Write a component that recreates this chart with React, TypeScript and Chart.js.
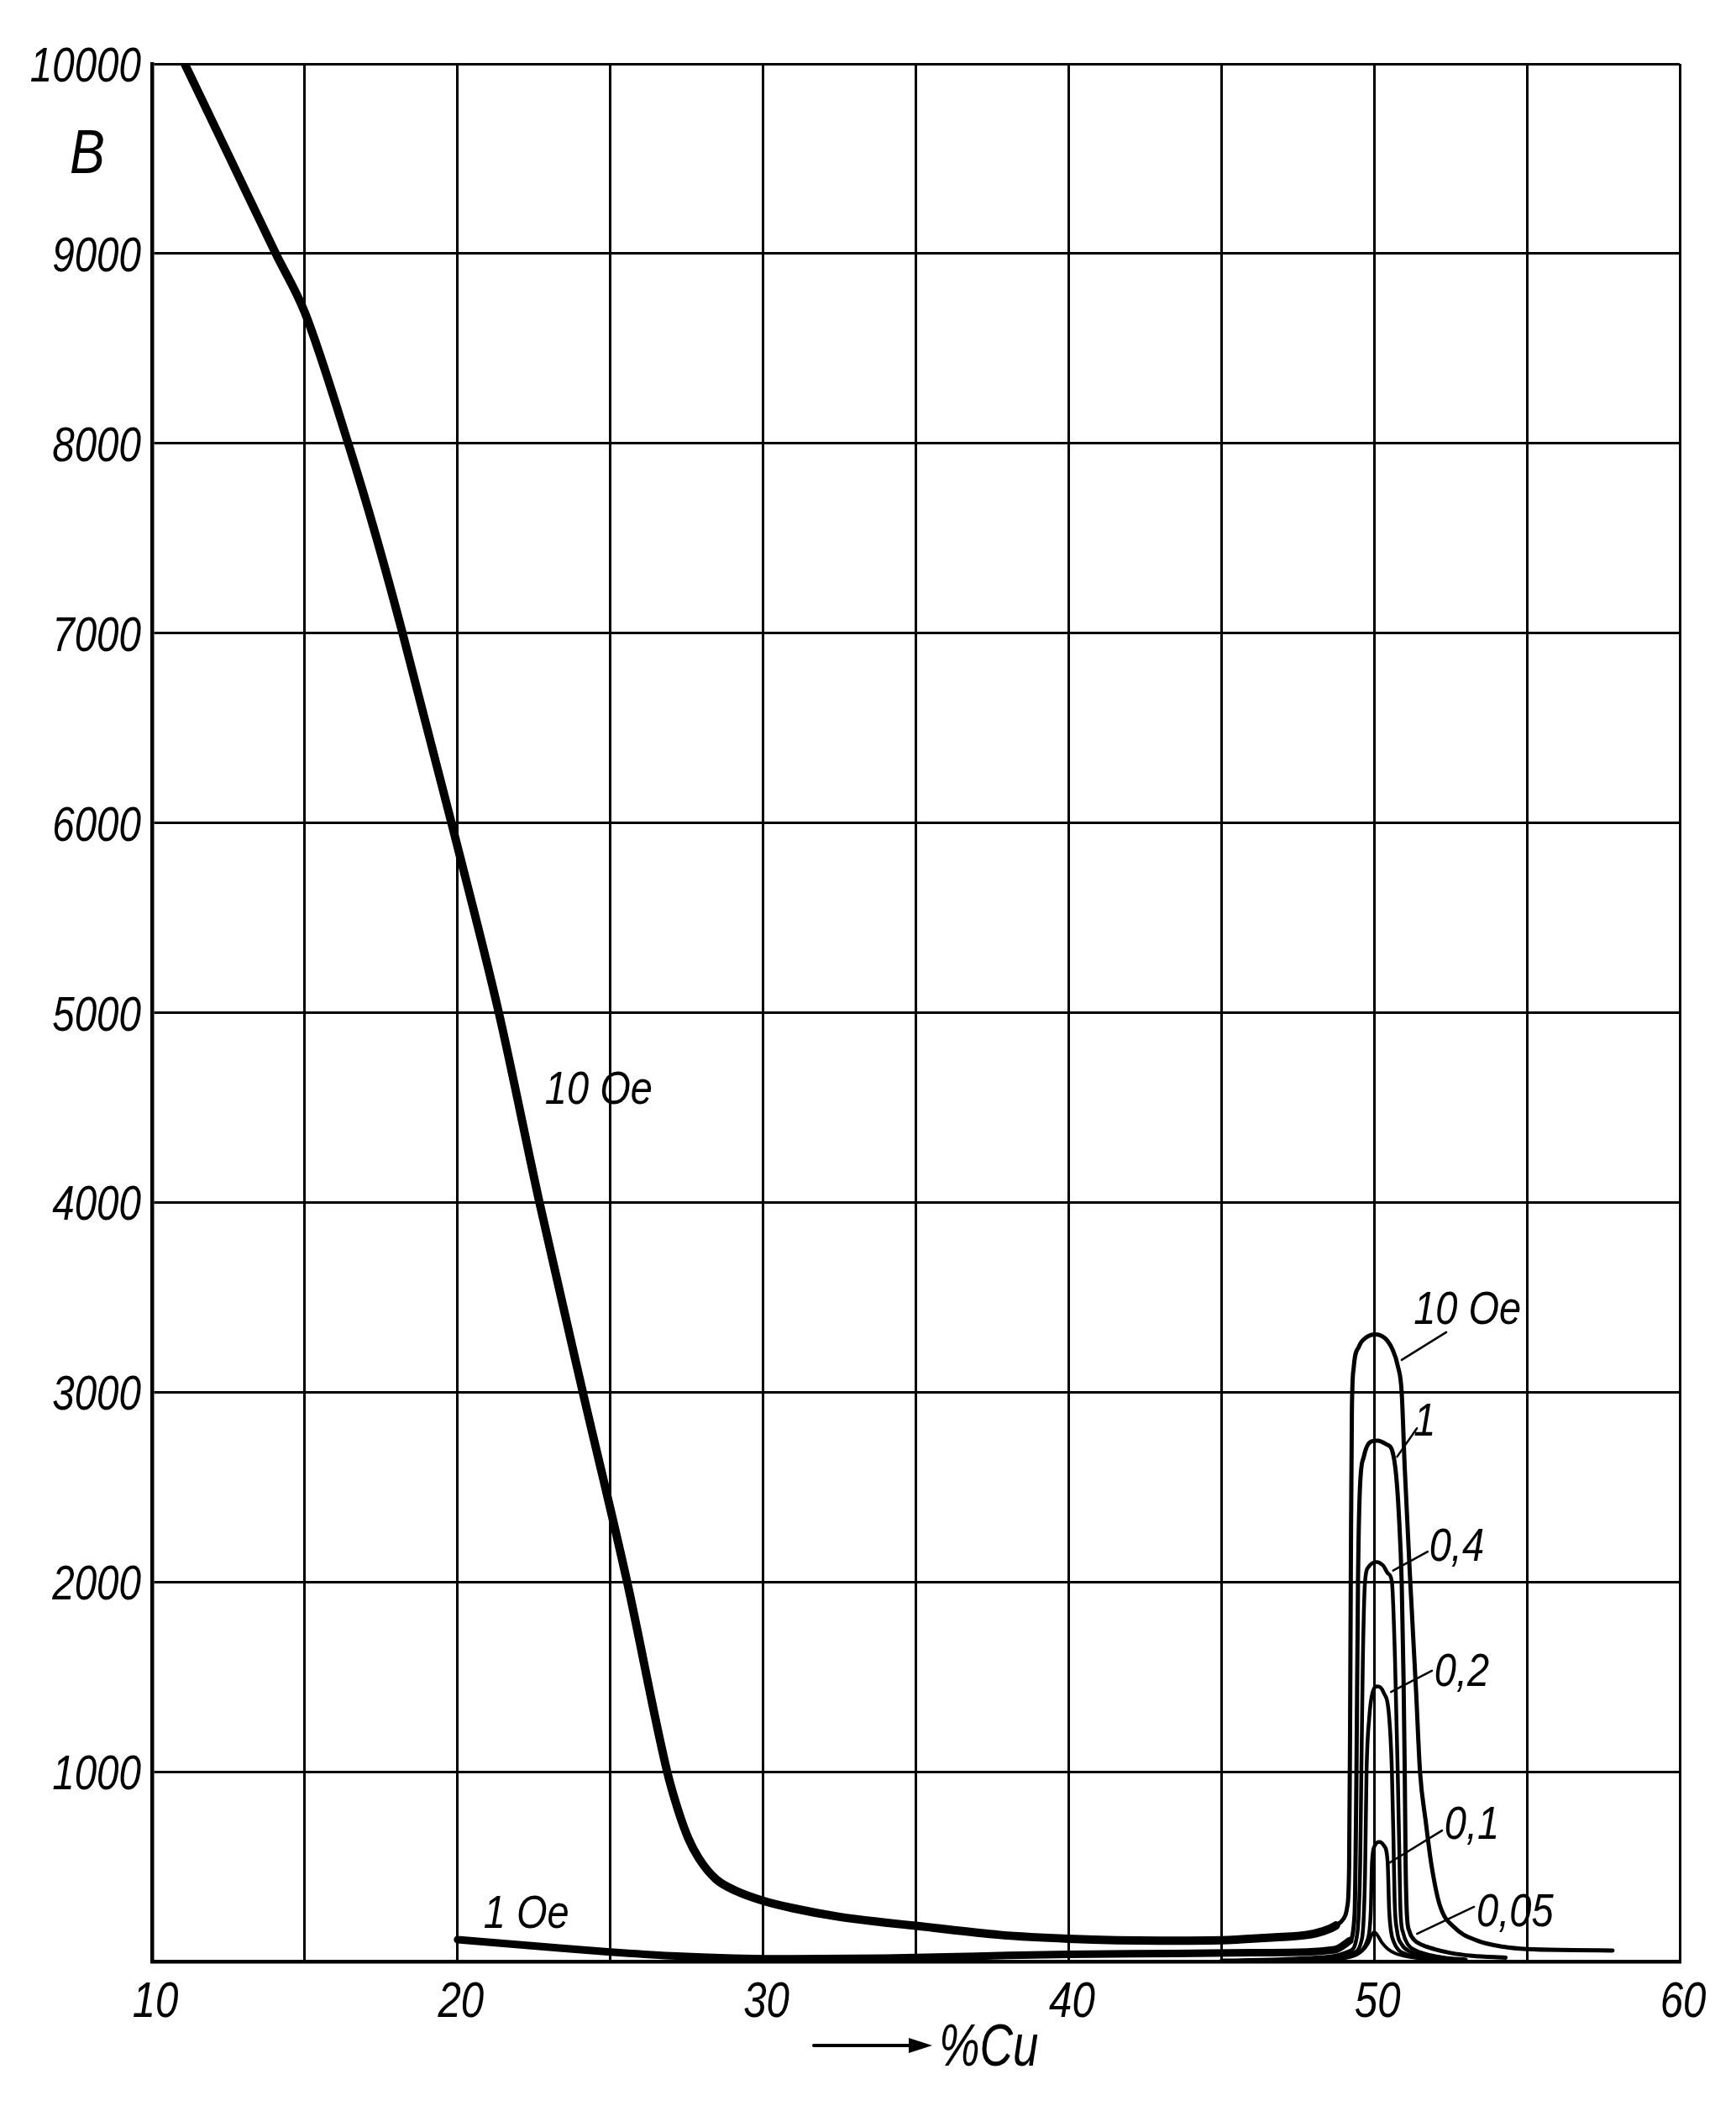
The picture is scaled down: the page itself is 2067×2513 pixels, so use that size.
import React, { useEffect, useRef } from "react";
import { Chart, registerables } from "chart.js";

Chart.register(...registerables);

const W = 2067;
const H = 2513;

// ---- data (x = % Cu, y = B) ----
const cu10 = [11.07, 12.5, 14.05, 15.0, 16.42, 17.35, 18.2, 19.8, 21.35, 22.68, 24.1, 25.55, 26.86, 27.2, 27.55, 27.9, 28.45, 29.1, 30.0, 31.0, 32.5, 34.0, 35.0, 37.75, 40.0, 43.0, 45.0, 46.5, 47.8, 48.3, 48.75, 49.0, 49.12, 49.18, 49.21, 49.24, 49.27, 49.33, 49.5, 49.75, 50.03, 50.35, 50.6, 50.77, 50.9, 51.0, 51.18, 51.37, 51.5, 51.69, 51.88, 52.15, 52.62, 53.35, 54.28, 55.0, 56.5, 57.8];
const b10 = [10000, 9520, 9000, 8690, 8000, 7500, 7000, 6000, 5000, 4000, 3000, 2000, 1000, 807, 650, 543, 435, 373, 320, 280, 235, 205, 188, 140, 120, 110, 112, 125, 140, 158, 190, 226, 290, 500, 1200, 2200, 2900, 3130, 3240, 3290, 3305, 3285, 3225, 3140, 3000, 2600, 2005, 1427, 1000, 734, 503, 295, 180, 111, 76, 65, 60, 58];

const cu1 = [20.0, 21.5, 23.0, 25.0, 27.0, 29.0, 31.0, 34.0, 37.0, 40.0, 43.5, 46.0, 47.8, 48.7, 49.2, 49.36, 49.42, 49.47, 49.53, 49.66, 49.9, 50.12, 50.4, 50.58, 50.72, 50.81, 50.9, 50.96, 51.0, 51.03, 51.07, 51.15, 51.3, 51.6, 51.97, 52.5, 53.2, 54.3];
const b1 = [115, 95, 75, 50, 30, 18, 14, 18, 28, 38, 42, 46, 50, 62, 110, 250, 1000, 2000, 2480, 2660, 2740, 2745, 2725, 2697, 2560, 2348, 2000, 1500, 1000, 500, 250, 160, 115, 85, 65, 45, 30, 20];

const cu04 = [45.0, 47.0, 48.5, 49.2, 49.45, 49.54, 49.58, 49.63, 49.7, 49.82, 50.07, 50.3, 50.45, 50.58, 50.68, 50.77, 50.82, 50.86, 50.95, 51.1, 51.4, 51.8, 52.3, 53.0];
const b04 = [5, 12, 25, 55, 150, 500, 1000, 1600, 2000, 2080, 2105, 2085, 2045, 2000, 1600, 1000, 600, 272, 150, 90, 55, 35, 20, 10];

const cu02 = [46.0, 47.5, 48.6, 49.3, 49.6, 49.7, 49.75, 49.84, 49.95, 50.1, 50.3, 50.49, 50.58, 50.63, 50.67, 50.75, 50.9, 51.2, 51.6, 52.2, 52.8];
const b02 = [5, 10, 20, 45, 120, 450, 1000, 1288, 1420, 1450, 1420, 1288, 1000, 650, 318, 160, 90, 50, 28, 14, 8];

const cu01 = [47.0, 48.2, 49.0, 49.5, 49.75, 49.85, 49.89, 49.93, 50.02, 50.17, 50.32, 50.44, 50.49, 50.55, 50.65, 50.8, 51.05, 51.5, 52.2];
const b01 = [5, 10, 20, 45, 100, 170, 272, 526, 610, 630, 610, 526, 272, 160, 100, 60, 38, 20, 8];

const cu005 = [48.0, 48.8, 49.3, 49.6, 49.8, 49.92, 50.0, 50.1, 50.25, 50.45, 50.7, 51.1, 51.8, 52.6];
const b005 = [5, 12, 28, 55, 95, 140, 155, 140, 100, 65, 42, 25, 12, 5];

// ---- labels ----
const peakLabels = ["10 Oe", "1", "0,4", "0,2", "0,1", "0,05"];
const peakLabelCu = [51.29, 51.29, 51.8, 51.97, 52.3, 53.35];
const peakLabelB = [3430, 2840, 2180, 1520, 715, 255];
const leaderFromCu = [52.36, 51.4, 51.75, 51.89, 52.22, 53.27];
const leaderFromB = [3316, 2810, 2160, 1532, 690, 288];
const leaderToCu = [50.9, 50.75, 50.62, 50.55, 50.5, 51.4];
const leaderToB = [3170, 2660, 2060, 1420, 520, 146];

const mainLabels = ["10 Oe", "1 Oe"];
const mainLabelCu = [22.86, 20.85];
const mainLabelB = [4590, 245];

const xMin = 10, xMax = 60, xStep = 5, xLabelStep = 10;
const yMin = 0, yMax = 10000, yStep = 1000;
const yAxisLabel = "B";
const xAxisLabel = "%Cu";

const FONT = '"Liberation Sans", Arimo, Arial, sans-serif';

function pts(xs: number[], ys: number[]) {
  return xs.map((x, i) => ({ x, y: ys[i] }));
}

function narrowText(ctx: any, text: string, x: number, y: number, size: number, sx: number, align: string, baseline: string) {
  ctx.save();
  ctx.translate(x, y);
  ctx.scale(sx, 1);
  ctx.font = `italic ${size}px ${FONT}`;
  ctx.textAlign = align;
  ctx.textBaseline = baseline;
  ctx.fillText(text, 0, 0);
  ctx.restore();
}

export default function App() {
  const ref = useRef<HTMLCanvasElement>(null);

  useEffect(() => {
    const canvas = ref.current!;
    const labelPlugin = {
      id: "curveLabels",
      afterDatasetsDraw(chart: any) {
        const { ctx } = chart;
        const xs = chart.scales.x;
        const ys = chart.scales.y;
        ctx.save();
        ctx.fillStyle = "#000";
        ctx.strokeStyle = "#000";

        // tick labels from the library's scales
        xs.ticks.forEach((t: any) => {
          if (t.value % xLabelStep !== 0) return;
          narrowText(ctx, String(t.value), xs.getPixelForValue(t.value) + 4, ys.bottom + 66, 60, 0.82, "center", "alphabetic");
        });
        ys.ticks.forEach((t: any) => {
          if (t.value === 0) return;
          narrowText(ctx, String(t.value), xs.left - 13, ys.getPixelForValue(t.value) + 21, 58, 0.82, "right", "alphabetic");
        });

        // curve labels
        peakLabels.forEach((t, i) => {
          narrowText(ctx, t, xs.getPixelForValue(peakLabelCu[i]), ys.getPixelForValue(peakLabelB[i]), 56, 0.84, "left", "middle");
        });
        mainLabels.forEach((t, i) => {
          narrowText(ctx, t, xs.getPixelForValue(mainLabelCu[i]), ys.getPixelForValue(mainLabelB[i]), 56, 0.84, "left", "middle");
        });
        ctx.lineWidth = 2.5;
        ctx.lineCap = "round";
        leaderFromCu.forEach((c, i) => {
          ctx.beginPath();
          ctx.moveTo(xs.getPixelForValue(c), ys.getPixelForValue(leaderFromB[i]));
          ctx.lineTo(xs.getPixelForValue(leaderToCu[i]), ys.getPixelForValue(leaderToB[i]));
          ctx.stroke();
        });

        // y axis letter
        narrowText(ctx, yAxisLabel, xs.left - 77, ys.getPixelForValue(9540) + 26, 74, 0.85, "center", "alphabetic");

        // x axis title with arrow
        const ay = ys.bottom + 100;
        const ax0 = xs.left + 788;
        const ax1 = xs.left + 929;
        ctx.lineWidth = 4;
        ctx.beginPath();
        ctx.moveTo(ax0, ay);
        ctx.lineTo(ax1 - 20, ay);
        ctx.stroke();
        ctx.beginPath();
        ctx.moveTo(ax1, ay);
        ctx.lineTo(ax1 - 28, ay - 9);
        ctx.lineTo(ax1 - 28, ay + 9);
        ctx.closePath();
        ctx.fill();
        narrowText(ctx, xAxisLabel, ax1 + 8, ay + 24, 70, 0.78, "left", "alphabetic");
        ctx.restore();
      },
    };

    const chart = new Chart(canvas, {
      type: "line",
      data: {
        datasets: [
          {
            data: pts(cu10, b10),
            borderColor: "#000",
            borderWidth: 10,
            segment: { borderWidth: (c: any) => (c.p0.parsed.x >= 48.75 ? 5 : 10) },
          },
          {
            data: pts(cu1, b1),
            borderColor: "#000",
            borderWidth: 9,
            segment: { borderWidth: (c: any) => (c.p0.parsed.x >= 49.2 ? 5 : 9) },
          },
          { data: pts(cu04, b04), borderColor: "#000", borderWidth: 4.5 },
          { data: pts(cu02, b02), borderColor: "#000", borderWidth: 4.5 },
          { data: pts(cu01, b01), borderColor: "#000", borderWidth: 4.5 },
          { data: pts(cu005, b005), borderColor: "#000", borderWidth: 4 },
        ],
      },
      options: {
        responsive: false,
        animation: false,
        devicePixelRatio: 1,
        layout: { padding: { top: 76, right: 67, left: 0, bottom: 0 } },
        plugins: { legend: { display: false }, tooltip: { enabled: false } },
        elements: {
          point: { radius: 0 },
          line: { cubicInterpolationMode: "monotone", borderCapStyle: "round", borderJoinStyle: "round", fill: false },
        },
        scales: {
          x: {
            type: "linear",
            min: xMin,
            max: xMax,
            afterFit: (s: any) => {
              s.height = 178;
            },
            ticks: { stepSize: xStep, autoSkip: false, maxRotation: 0, display: false },
            grid: { color: "#000", lineWidth: 3, drawTicks: false },
            border: { color: "#000", width: 4.5 },
          },
          y: {
            type: "linear",
            min: yMin,
            max: yMax,
            afterFit: (s: any) => {
              s.width = 181;
            },
            ticks: { stepSize: yStep, autoSkip: false, display: false },
            grid: { color: "#000", lineWidth: 3, drawTicks: false },
            border: { color: "#000", width: 4.5 },
          },
        },
      },
      plugins: [labelPlugin],
    } as any);

    return () => chart.destroy();
  }, []);

  return (
    <div style={{ position: "absolute", left: 0, top: 0, width: W, height: H, background: "#fff" }}>
      <canvas ref={ref} width={W} height={H} style={{ display: "block", width: W, height: H }} />
    </div>
  );
}
